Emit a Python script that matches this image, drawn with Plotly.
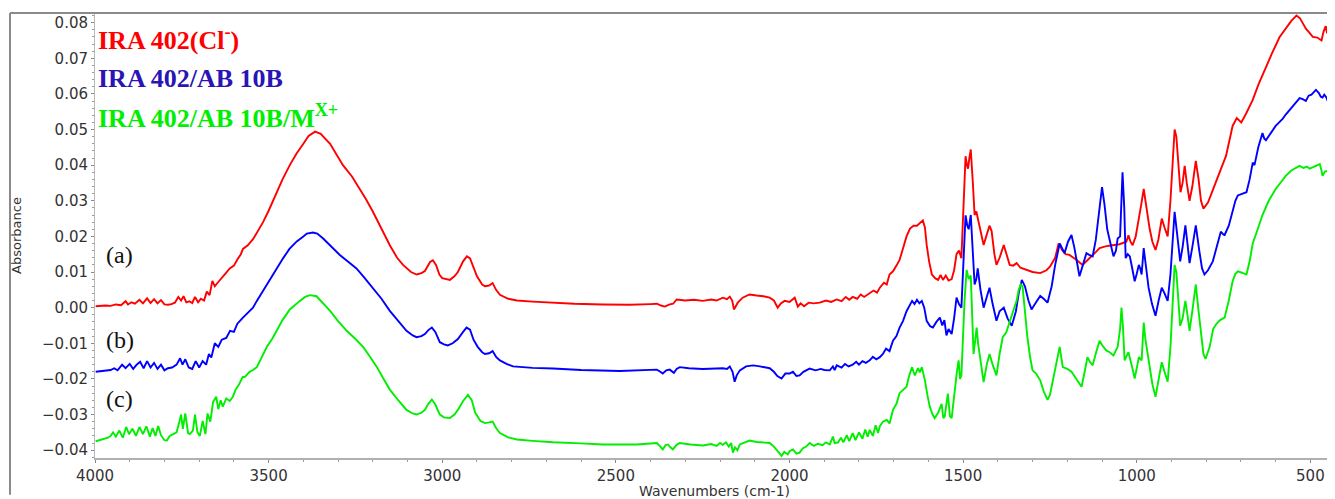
import plotly.graph_objects as go

# ---------------- data ----------------
wn_a = [3998,3985,3970,3955,3940,3925,3912,3905,3895,3885,3872,3862,3850,3840,3830,3820,3810,3800,3790,3780,
        3770,3760,3752,3745,3737,3728,3720,3712,3703,3695,3686,3678,3670,3662,3655,3645,3635,3625,3612,3600,
        3590,3580,3574,3560,3545,3530,3516,3500,3477,3460,3439,3420,3400,3385,3366,3350,3323,3300,3286,3260,
        3237,3220,3200,3175,3151,3130,3113,3090,3074,3060,3050,3035,3027,3018,3008,3000,2985,2978,2965,2955,
        2940,2929,2920,2910,2900,2885,2877,2865,2855,2845,2834,2810,2785,2740,2681,2620,2537,2460,2400,2382,
        2370,2359,2345,2335,2325,2300,2275,2250,2225,2210,2192,2180,2172,2165,2160,2154,2149,2135,2115,2095,
        2075,2057,2045,2034,2025,2014,2000,1985,1976,1968,1958,1945,1930,1913,1895,1880,1864,1850,1838,1828,
        1818,1805,1795,1785,1769,1758,1748,1740,1728,1720,1712,1702,1692,1683,1673,1663,1653,1643,1633,1625,
        1616,1610,1605,1598,1590,1580,1572,1565,1558,1550,1542,1533,1526,1519,1512,1505,1498,1493,1489,1486,
        1482,1478,1472,1467,1462,1458,1450,1441,1432,1424,1418,1410,1404,1395,1383,1375,1366,1356,1346,1335,
        1317,1300,1278,1260,1250,1235,1225,1215,1205,1194,1175,1156,1140,1126,1116,1107,1090,1070,1050,1030,
        1024,1018,1012,1003,995,987,980,972,963,955,946,938,928,920,911,903,897,891,886,880,
        874,868,862,856,848,840,830,822,815,808,795,785,771,758,743,733,724,712,704,699,
        685,666,650,628,610,589,570,555,540,530,520,513,503,493,480,468,462,456,452,448,
        444,440,435]
abs_a = [0.0004,0.0005,0.0006,0.0005,0.0009,0.0007,0.0018,0.0009,0.0015,0.0011,0.0022,0.0012,0.0026,0.0013,0.0024,0.0012,0.0021,0.0009,0.0008,0.0010,
         0.0014,0.0030,0.0020,0.0032,0.0015,0.0018,0.0013,0.0030,0.0015,0.0025,0.0020,0.0045,0.0035,0.0075,0.0060,0.0072,0.0085,0.0095,0.0110,0.0118,
         0.0135,0.0150,0.0165,0.0175,0.0192,0.0215,0.0240,0.0272,0.0325,0.0360,0.0400,0.0432,0.0460,0.0482,0.0494,0.0488,0.0460,0.0425,0.0400,0.0368,
         0.0333,0.0305,0.0270,0.0222,0.0175,0.0140,0.0120,0.0100,0.0093,0.0097,0.0103,0.0128,0.0133,0.0120,0.0092,0.0083,0.0080,0.0078,0.0088,0.0100,
         0.0130,0.0144,0.0138,0.0110,0.0088,0.0065,0.0060,0.0062,0.0069,0.0050,0.0036,0.0025,0.0020,0.0017,0.0014,0.0011,0.0009,0.0008,0.0010,0.0011,
         0.0006,0.0003,0.0009,0.0011,0.0023,0.0020,0.0022,0.0019,0.0023,0.0020,0.0028,0.0024,0.0031,0.0020,-0.0005,0.0008,0.0014,0.0028,0.0037,0.0034,
         0.0032,0.0028,0.0020,0.0000,0.0012,0.0019,0.0016,0.0028,0.0003,0.0012,0.0004,0.0014,0.0012,0.0014,0.0020,0.0016,0.0023,0.0018,0.0030,0.0022,
         0.0030,0.0025,0.0037,0.0030,0.0040,0.0048,0.0042,0.0056,0.0070,0.0065,0.0093,0.0102,0.0118,0.0134,0.0167,0.0200,0.0222,0.0230,0.0230,0.0238,
         0.0245,0.0225,0.0176,0.0130,0.0093,0.0082,0.0078,0.0092,0.0078,0.0090,0.0076,0.0080,0.0105,0.0150,0.0160,0.0139,0.0300,0.0425,0.0400,0.0390,
         0.0420,0.0444,0.0350,0.0260,0.0270,0.0250,0.0215,0.0176,0.0205,0.0230,0.0215,0.0150,0.0120,0.0140,0.0176,0.0150,0.0120,0.0118,0.0125,0.0112,
         0.0106,0.0100,0.0097,0.0105,0.0115,0.0140,0.0180,0.0162,0.0150,0.0148,0.0135,0.0120,0.0135,0.0150,0.0158,0.0167,0.0172,0.0175,0.0178,0.0185,
         0.0203,0.0185,0.0175,0.0200,0.0240,0.0290,0.0333,0.0280,0.0222,0.0185,0.0162,0.0190,0.0250,0.0225,0.0200,0.0300,0.0420,0.0500,0.0480,0.0400,
         0.0324,0.0350,0.0398,0.0350,0.0300,0.0340,0.0412,0.0360,0.0300,0.0278,0.0295,0.0320,0.0357,0.0390,0.0426,0.0470,0.0510,0.0532,0.0525,0.0520,
         0.0545,0.0583,0.0625,0.0676,0.0715,0.0759,0.0785,0.0805,0.0820,0.0812,0.0795,0.0783,0.0772,0.0760,0.0758,0.0750,0.0775,0.0790,0.0770,0.0805,
         0.0778,0.0795,0.0787]

wn_b = [3998,3985,3970,3955,3945,3935,3922,3912,3900,3890,3880,3870,3860,3850,3840,3830,3820,3810,3800,3790,
        3778,3765,3755,3748,3740,3730,3720,3710,3700,3690,3680,3672,3665,3655,3645,3635,3622,3611,3600,3590,
        3574,3560,3545,3534,3515,3496,3477,3458,3440,3419,3400,3390,3372,3360,3343,3320,3295,3270,3247,3225,
        3200,3175,3151,3125,3103,3085,3074,3060,3050,3040,3030,3020,3007,2995,2984,2970,2955,2940,2930,2920,
        2910,2898,2885,2877,2865,2855,2845,2834,2815,2796,2740,2681,2600,2489,2420,2382,2372,2365,2355,2345,
        2333,2325,2316,2290,2250,2220,2192,2180,2172,2164,2158,2152,2143,2125,2105,2085,2070,2057,2045,2035,
        2023,2012,2000,1990,1980,1971,1960,1950,1942,1925,1910,1900,1884,1875,1870,1864,1850,1840,1830,1818,
        1808,1800,1790,1780,1769,1760,1750,1740,1731,1722,1712,1702,1692,1683,1673,1663,1655,1647,1640,1633,
        1626,1619,1612,1605,1595,1587,1577,1567,1560,1554,1548,1542,1533,1526,1519,1512,1505,1500,1493,1488,
        1484,1478,1472,1467,1462,1458,1450,1441,1432,1424,1415,1404,1395,1383,1372,1360,1348,1340,1331,1322,
        1312,1303,1290,1278,1268,1257,1245,1235,1222,1215,1208,1198,1188,1180,1172,1165,1155,1145,1137,1127,
        1118,1108,1100,1093,1085,1078,1067,1060,1055,1048,1041,1036,1032,1026,1020,1013,1006,1000,994,990,
        986,980,973,966,956,946,937,928,920,911,903,897,891,883,875,868,860,854,848,840,
        830,820,812,805,795,781,770,758,750,747,735,724,716,709,697,684,675,666,661,650,
        638,633,628,615,600,590,580,571,560,550,540,531,522,513,505,497,490,484,476,470,
        465,460,454,450,444,440,435]
abs_b = [-0.0180,-0.0178,-0.0176,-0.0175,-0.0170,-0.0176,-0.0160,-0.0170,-0.0158,-0.0172,-0.0160,-0.0152,-0.0170,-0.0150,-0.0168,-0.0155,-0.0172,-0.0160,-0.0176,-0.0170,
         -0.0168,-0.0160,-0.0142,-0.0160,-0.0145,-0.0168,-0.0172,-0.0150,-0.0168,-0.0150,-0.0160,-0.0130,-0.0140,-0.0100,-0.0110,-0.0090,-0.0085,-0.0065,-0.0068,-0.0045,
         -0.0028,-0.0015,0.0000,0.0019,0.0050,0.0078,0.0110,0.0139,0.0165,0.0186,0.0200,0.0208,0.0211,0.0208,0.0194,0.0172,0.0148,0.0128,0.0110,0.0085,
         0.0056,0.0025,-0.0009,-0.0040,-0.0065,-0.0078,-0.0083,-0.0080,-0.0074,-0.0063,-0.0056,-0.0068,-0.0097,-0.0103,-0.0106,-0.0100,-0.0088,-0.0068,-0.0056,-0.0062,
         -0.0090,-0.0110,-0.0125,-0.0130,-0.0128,-0.0122,-0.0138,-0.0148,-0.0158,-0.0165,-0.0169,-0.0171,-0.0175,-0.0178,-0.0176,-0.0174,-0.0180,-0.0185,-0.0176,-0.0174,
         -0.0183,-0.0172,-0.0167,-0.0170,-0.0172,-0.0170,-0.0170,-0.0172,-0.0165,-0.0180,-0.0208,-0.0190,-0.0176,-0.0165,-0.0162,-0.0165,-0.0167,-0.0170,-0.0180,-0.0192,
         -0.0199,-0.0185,-0.0185,-0.0180,-0.0192,-0.0190,-0.0180,-0.0175,-0.0171,-0.0176,-0.0172,-0.0175,-0.0176,-0.0165,-0.0175,-0.0162,-0.0168,-0.0158,-0.0165,-0.0160,
         -0.0152,-0.0160,-0.0150,-0.0155,-0.0148,-0.0138,-0.0145,-0.0139,-0.0130,-0.0115,-0.0122,-0.0093,-0.0080,-0.0056,-0.0037,-0.0010,0.0005,0.0019,0.0010,0.0022,
         0.0012,0.0019,0.0000,-0.0037,-0.0052,-0.0056,-0.0040,-0.0028,-0.0050,-0.0035,-0.0078,-0.0060,-0.0074,-0.0030,0.0028,0.0010,0.0000,0.0120,0.0259,0.0230,
         0.0220,0.0260,0.0150,0.0065,0.0080,0.0110,0.0050,0.0000,0.0030,0.0056,0.0010,-0.0037,-0.0010,0.0000,-0.0030,-0.0051,-0.0010,0.0040,0.0078,0.0060,
         0.0020,-0.0005,0.0015,0.0033,0.0025,0.0014,0.0060,0.0120,0.0180,0.0165,0.0153,0.0185,0.0204,0.0170,0.0120,0.0088,0.0120,0.0153,0.0148,0.0144,
         0.0190,0.0280,0.0338,0.0290,0.0220,0.0190,0.0144,0.0160,0.0194,0.0200,0.0380,0.0280,0.0139,0.0150,0.0144,0.0110,0.0074,0.0095,0.0120,0.0110,
         0.0093,0.0167,0.0110,0.0056,0.0010,-0.0023,0.0020,0.0056,0.0040,0.0019,0.0093,0.0200,0.0269,0.0200,0.0130,0.0170,0.0231,0.0180,0.0125,0.0170,
         0.0231,0.0160,0.0110,0.0093,0.0105,0.0130,0.0170,0.0213,0.0205,0.0204,0.0230,0.0269,0.0300,0.0315,0.0320,0.0324,0.0360,0.0407,0.0400,0.0450,
         0.0490,0.0475,0.0470,0.0490,0.0510,0.0520,0.0530,0.0542,0.0555,0.0565,0.0580,0.0588,0.0585,0.0580,0.0595,0.0598,0.0605,0.0611,0.0603,0.0592,
         0.0590,0.0598,0.0590,0.0580,0.0565,0.0555,0.0532]

wn_c = [3998,3985,3975,3962,3955,3948,3940,3930,3920,3910,3902,3892,3882,3872,3862,3852,3842,3834,3826,3818,
        3810,3800,3793,3785,3775,3765,3757,3752,3747,3740,3732,3727,3718,3712,3705,3698,3690,3682,3676,3668,
        3660,3651,3645,3638,3632,3622,3612,3603,3595,3585,3575,3568,3555,3545,3534,3520,3505,3490,3477,3460,
        3439,3420,3410,3395,3381,3362,3345,3323,3300,3275,3250,3228,3210,3188,3170,3151,3125,3103,3085,3074,
        3060,3050,3040,3030,3020,3007,2995,2978,2965,2955,2940,2926,2915,2905,2890,2877,2865,2855,2845,2834,
        2810,2785,2740,2681,2600,2537,2440,2382,2372,2365,2357,2350,2343,2336,2325,2316,2285,2250,2225,2210,
        2200,2192,2183,2175,2168,2163,2157,2150,2143,2128,2115,2095,2075,2057,2045,2035,2028,2023,2015,2005,
        2000,1990,1980,1971,1962,1952,1942,1930,1918,1905,1895,1884,1875,1870,1860,1852,1845,1835,1828,1818,
        1810,1800,1790,1782,1775,1769,1760,1752,1745,1740,1731,1720,1712,1702,1692,1683,1673,1663,1655,1647,
        1643,1639,1630,1625,1619,1610,1603,1596,1588,1582,1572,1562,1557,1553,1544,1538,1533,1528,1524,1518,
        1513,1509,1505,1500,1496,1490,1484,1478,1474,1470,1465,1461,1457,1453,1447,1441,1432,1424,1415,1404,
        1395,1386,1376,1366,1356,1346,1340,1334,1329,1322,1315,1307,1300,1290,1278,1268,1257,1250,1242,1232,
        1222,1213,1200,1188,1175,1159,1150,1142,1135,1127,1117,1107,1100,1088,1078,1067,1055,1048,1044,1040,
        1035,1024,1015,1006,998,994,986,980,975,963,955,946,937,928,920,911,903,897,891,886,
        880,875,868,860,854,848,840,830,822,815,808,802,790,780,771,760,747,735,724,716,
        709,697,684,675,666,650,638,620,600,585,571,555,540,531,520,510,502,490,480,473,
        468,465,458,450,444,440,435]
abs_c = [-0.0375,-0.0372,-0.0368,-0.0365,-0.0360,-0.0350,-0.0362,-0.0345,-0.0365,-0.0335,-0.0355,-0.0340,-0.0360,-0.0335,-0.0355,-0.0333,-0.0362,-0.0338,-0.0360,-0.0332,
         -0.0358,-0.0372,-0.0373,-0.0360,-0.0355,-0.0350,-0.0320,-0.0300,-0.0340,-0.0297,-0.0352,-0.0355,-0.0345,-0.0300,-0.0350,-0.0360,-0.0318,-0.0355,-0.0297,-0.0320,
         -0.0265,-0.0250,-0.0285,-0.0260,-0.0278,-0.0255,-0.0262,-0.0250,-0.0230,-0.0215,-0.0195,-0.0194,-0.0180,-0.0175,-0.0167,-0.0140,-0.0110,-0.0088,-0.0065,-0.0035,
         -0.0005,0.0012,0.0019,0.0030,0.0035,0.0032,0.0015,-0.0009,-0.0038,-0.0065,-0.0088,-0.0110,-0.0135,-0.0167,-0.0198,-0.0230,-0.0262,-0.0287,-0.0297,-0.0300,
         -0.0295,-0.0287,-0.0270,-0.0258,-0.0272,-0.0300,-0.0308,-0.0310,-0.0300,-0.0287,-0.0262,-0.0245,-0.0260,-0.0295,-0.0318,-0.0324,-0.0322,-0.0320,-0.0338,-0.0352,
         -0.0364,-0.0370,-0.0374,-0.0378,-0.0381,-0.0384,-0.0384,-0.0380,-0.0390,-0.0398,-0.0386,-0.0384,-0.0392,-0.0398,-0.0385,-0.0380,-0.0384,-0.0387,-0.0383,-0.0388,
         -0.0380,-0.0385,-0.0378,-0.0390,-0.0380,-0.0407,-0.0392,-0.0400,-0.0384,-0.0378,-0.0373,-0.0377,-0.0378,-0.0380,-0.0390,-0.0400,-0.0410,-0.0416,-0.0405,-0.0412,
         -0.0403,-0.0398,-0.0410,-0.0407,-0.0395,-0.0390,-0.0380,-0.0388,-0.0382,-0.0386,-0.0378,-0.0384,-0.0362,-0.0380,-0.0378,-0.0365,-0.0378,-0.0358,-0.0375,-0.0352,
         -0.0372,-0.0350,-0.0368,-0.0342,-0.0362,-0.0343,-0.0360,-0.0330,-0.0352,-0.0333,-0.0320,-0.0315,-0.0325,-0.0287,-0.0270,-0.0240,-0.0232,-0.0222,-0.0190,-0.0167,
         -0.0180,-0.0190,-0.0170,-0.0182,-0.0167,-0.0204,-0.0245,-0.0278,-0.0300,-0.0310,-0.0295,-0.0270,-0.0310,-0.0305,-0.0241,-0.0305,-0.0310,-0.0260,-0.0220,-0.0180,
         -0.0148,-0.0200,-0.0190,-0.0060,0.0019,0.0106,0.0080,0.0090,0.0000,-0.0130,-0.0090,-0.0056,-0.0100,-0.0130,-0.0180,-0.0209,-0.0160,-0.0130,-0.0160,-0.0190,
         -0.0130,-0.0083,-0.0070,-0.0037,-0.0010,0.0019,0.0050,0.0065,0.0060,-0.0010,-0.0083,-0.0140,-0.0176,-0.0185,-0.0204,-0.0235,-0.0259,-0.0245,-0.0209,-0.0165,
         -0.0110,-0.0167,-0.0172,-0.0180,-0.0200,-0.0222,-0.0180,-0.0139,-0.0152,-0.0162,-0.0125,-0.0093,-0.0105,-0.0120,-0.0125,-0.0134,-0.0110,-0.0060,0.0000,-0.0050,
         -0.0148,-0.0125,-0.0160,-0.0199,-0.0160,-0.0139,-0.0148,-0.0042,-0.0090,-0.0167,-0.0215,-0.0250,-0.0200,-0.0153,-0.0180,-0.0208,-0.0111,0.0020,0.0120,0.0100,
         0.0030,-0.0051,-0.0030,0.0019,-0.0020,-0.0065,-0.0010,0.0065,-0.0010,-0.0080,-0.0130,-0.0144,-0.0110,-0.0060,-0.0046,-0.0035,-0.0028,0.0020,0.0074,0.0095,
         0.0102,0.0098,0.0093,0.0130,0.0180,0.0225,0.0260,0.0300,0.0333,0.0352,0.0370,0.0385,0.0392,0.0398,0.0392,0.0396,0.0390,0.0396,0.0400,0.0403,
         0.0385,0.0370,0.0382,0.0384,0.0370,0.0350,0.0333]

series_names = ["IRA 402(Cl<sup>-</sup>)", "IRA 402/AB 10B", "IRA 402/AB 10B/M<sup>X+</sup>"]
curve_labels = ["(a)", "(b)", "(c)"]
x_ticks = [4000, 3500, 3000, 2500, 2000, 1500, 1000, 500]
y_ticks = [-0.04, -0.03, -0.02, -0.01, 0.00, 0.01, 0.02, 0.03, 0.04, 0.05, 0.06, 0.07, 0.08]

# ---------------- styles ----------------
line_colors = ["#ff0000", "#0000ff", "#00ee00"]
text_colors = ["#ff0000", "#2a14b4", "#00ee00"]
name_y = [0.0756, 0.0644, 0.0536]
label_y = [0.0147, -0.0091, -0.0255]

fig = go.Figure()
for wn, ab, col, nm in zip([wn_a, wn_b, wn_c], [abs_a, abs_b, abs_c], line_colors, series_names):
    fig.add_trace(go.Scatter(x=wn, y=ab, mode="lines", line=dict(color=col, width=1.9),
                             name=nm, showlegend=False))

for nm, col, yy in zip(series_names, text_colors, name_y):
    fig.add_annotation(x=3996, y=yy, xref="x", yref="y", text="<b>" + nm + "</b>",
                       showarrow=False, xanchor="left", yanchor="middle",
                       font=dict(family="Liberation Serif, serif", size=26, color=col))
for lb, yy in zip(curve_labels, label_y):
    fig.add_annotation(x=3973, y=yy, xref="x", yref="y", text=lb, showarrow=False,
                       xanchor="left", yanchor="middle",
                       font=dict(family="Liberation Serif, serif", size=24, color="#111111"))

# the page body has an 8px margin, so the figure is sized/offset to compensate
W, H = 1327, 491
ml, mr, mt, mb = 87, 1, 5, 37
pw, ph = W - ml - mr, H - mt - mb
fx = (2 - ml) / pw
# outer frame lines (top and left)
fig.add_shape(type="line", xref="paper", yref="paper", x0=fx, x1=1.0, y0=1.0, y1=1.0,
              line=dict(color="#8a8a8a", width=2))
fig.add_shape(type="line", xref="paper", yref="paper", x0=fx, x1=fx, y0=1.0, y1=-mb / ph,
              line=dict(color="#8a8a8a", width=2))

fig.update_layout(
    width=W, height=H,
    margin=dict(l=ml, r=mr, t=mt, b=mb),
    plot_bgcolor="white", paper_bgcolor="white",
    font=dict(family="DejaVu Sans, Verdana, sans-serif", size=14, color="#333333"),
    xaxis=dict(range=[4000, 432], tickvals=x_ticks, ticks="outside", ticklen=3,
               tickcolor="#888888", showgrid=False, zeroline=False, showline=True,
               linecolor="#b0b0b0", linewidth=2, tickfont=dict(size=15),
               minor=dict(dtick=100, ticks="outside", ticklen=2, tickcolor="#999999"),
               title=dict(text="Wavenumbers (cm-1)", standoff=3,
                          font=dict(size=14, color="#333333"))),
    yaxis=dict(range=[-0.0422, 0.0827], tickvals=y_ticks, tickformat=".2f",
               ticks="outside", ticklen=3, tickcolor="#888888", showgrid=False,
               zeroline=False, showline=True, linecolor="#b8b8b8", linewidth=1,
               tickfont=dict(size=15),
               minor=dict(dtick=0.002, ticks="outside", ticklen=2, tickcolor="#999999"),
               title=dict(text="Absorbance", standoff=17,
                          font=dict(size=13, color="#333333"))),
)

fig.write_html("out.html")
